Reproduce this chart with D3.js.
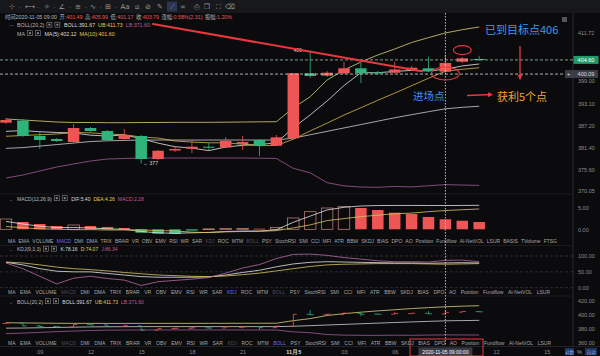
<!DOCTYPE html>
<html>
<head>
<meta charset="utf-8">
<script src="https://cdn.jsdelivr.net/npm/d3@7"></script>
<style>
html, body { margin: 0; padding: 0; background: #0b0b0e; }
svg { display: block; font-family: "Liberation Sans", "Noto Sans CJK SC", sans-serif; }
</style>
</head>
<body>
<svg id="chart" width="600" height="356"></svg>
<script>
// 1h candles, 2020-11-04 07:00 .. 2020-11-05 11:00
const opens  = [387.99,388.52,384.47,383.67,382.88,386.58,385.79,383.67,384.47,378.38,380.63,381.11,381.64,381.43,382.35,383.41,381.90,383.86,401.06,400.42,401.06,402.38,401.32,401.21,401.93,402.38,401.49,404.12,404.84];
const closes = [388.70,384.47,383.41,383.15,386.58,385.79,383.41,384.73,378.38,380.58,381.03,381.64,381.37,383.15,382.88,381.90,384.12,401.06,400.34,401.21,402.38,401.06,401.06,402.06,402.54,401.66,403.79,405.02,404.57];
const highs  = [389.23,388.97,385.53,383.94,387.64,386.85,386.06,386.32,384.73,380.76,381.82,383.41,382.62,384.20,384.47,383.67,384.73,401.13,407.00,401.66,404.12,403.78,401.66,404.12,402.99,405.45,405.99,405.37,405.70];
const lows   = [387.64,384.20,381.03,382.88,382.62,385.53,383.15,383.41,377.20,378.12,380.24,379.97,380.76,381.29,380.76,379.18,381.82,383.67,399.81,400.08,400.87,398.49,400.87,401.00,401.66,401.40,401.17,403.78,404.31];

const bollUp  = [388.97,388.70,388.44,388.17,388.04,388.04,387.99,387.99,388.04,388.04,388.09,388.09,388.09,388.12,388.17,388.22,388.25,391.88,394.86,399.28,401.93,404.04,405.90,407.48,409.20,410.50,411.73,412.60,413.30];
const bollMid = [381.2,381.4,381.8,382.2,382.6,383.0,383.2,383.3,383.4,383.4,383.4,383.4,383.4,383.4,383.4,383.4,383.4,383.9,384.8,385.7,386.6,387.5,388.4,389.3,390.1,390.9,391.67,392.05,392.35];
const bollLow = [373.36,374.15,375.21,376.27,377.06,377.85,378.38,378.52,378.65,378.65,378.65,378.65,378.65,378.65,378.65,378.60,378.52,375.92,374.74,372.12,371.27,370.96,370.90,371.12,371.00,371.30,371.60,371.50,371.40];
const ma5  = [385.7,385.9,385.6,385.4,385.26,384.68,384.47,384.73,383.78,382.58,381.63,381.27,380.60,381.55,382.01,382.19,382.68,386.62,390.06,393.73,397.82,401.21,401.21,401.55,401.82,401.68,402.12,403.01,403.52];
const ma10 = [384.4,384.6,384.8,385.0,385.4,385.3,385.0,384.8,384.2,383.92,383.15,382.87,382.67,382.67,382.30,381.91,381.98,383.61,385.81,387.87,390.01,391.95,393.92,395.81,397.77,399.75,401.60,402.11,402.54];

const macdHist = [2.34,1.66,1.20,0.75,0.98,0.75,0.52,0.30,-0.77,-1.00,-1.07,-0.30,0.10,0.16,0.20,0.14,0.40,2.57,4.00,4.84,5.14,4.84,4.39,3.77,3.48,2.80,2.28,1.95,1.66];
const dif = [1.80,1.20,0.70,0.40,0.40,0.30,0.10,0.00,-0.50,-0.80,-0.90,-0.80,-0.70,-0.50,-0.40,-0.40,-0.10,1.60,3.00,4.40,5.00,5.30,5.40,5.42,5.42,5.41,5.40,5.42,5.45];
const dea = [0.63,0.37,0.10,0.03,-0.09,-0.08,-0.16,-0.15,-0.12,-0.30,-0.37,-0.65,-0.75,-0.58,-0.50,-0.47,-0.30,0.32,1.00,1.98,2.43,2.88,3.21,3.54,3.68,4.01,4.26,4.45,4.62];

const kdjK = [80,72,60,52,50,50,45,40,35,33,33,33,34,40,48,55,66,75,80,82,81,80,79,78,78,77,78.16,79,78];
const kdjD = [81,78,72,65,60,57,53,48,44,40,38,36,35,37,41,46,53,60,67,72,74,75,76,76,76,75,74.07,75,76];
const kdjJ = [78,60,36,12,30,36,29,24,7,19,23,27,32,46,62,73,92,105,106,102,95,90,85,82,82,81,86.34,87,82];

const priceTicks = [411.72, 399.00, 393.10, 387.20, 381.40, 375.60, 370.05];
const macdTicks = [5, 0];
const kdjTicks = [100, 50, 0];
const bollTicks = [420, 400, 380, 360];
const timeTickIdx = [2, 5, 8, 11, 14, 17, 20, 23, 29, 32];
const timeTickText = ["09", "12", "15", "18", "21", "11月5", "03", "06", "12", "15"];
const lastPrice = 404.60, entryPrice = 400.09, crossIdx = 26;

const indicatorNames = ["MA","EMA","VOLUME","MACD","DMI","DMA","TRIX","BRAR","VR","OBV","EMV","RSI","WR","SAR","KDJ","ROC","MTM","BOLL","PSY","StochRSI","SMI","CCI","MFI","ATR","BBW","SKDJ","BIAS","DPO","AO","Position","Fundflow","AI-NetVOL","LSUR","BASIS","TVolume","FTSG"];

const UP = "#ee5656", DOWN = "#2fb57b", TXT = "#b8b8b8", AX = "#8c8c8c";
const C_WHITE = "#dcdcdc", C_YEL = "#e3c94f", C_PINK = "#c25a9c";

const svg = d3.select("#chart");
svg.append("rect").attr("width", 600).attr("height", 356).attr("fill", "#0b0b0e");

const x = d3.scaleLinear().domain([0, 33]).range([6, 6 + 33 * 16.9]);
const yMain = d3.scaleLinear().domain([370.05, 411.72]).range([190.5, 33]);
const yMacd = d3.scaleLinear().domain([0, 5]).range([229.3, 207.3]);
const yKdj = d3.scaleLinear().domain([0, 100]).range([287.7, 256]);
const yBoll = d3.scaleLinear().domain([360, 420]).range([343, 301]);
const idx = d3.range(opens.length);

// toolbar
svg.append("rect").attr("width", 600).attr("height", 13).attr("fill", "#17181c");
const icons = ["⊹","⟷","✧","∠","≡","∿","⊞","Aa","⧄","⊘","✎","⟋","∞","⎙","❐","⛶","⌫"];
const iconX = [12,30,47,62,78,93,108,125,137,148,160,172,183,197,207,218,230];
svg.append("rect").attr("x", 167).attr("y", 1.5).attr("width", 10).attr("height", 10).attr("fill", "#2b3550");
svg.append("g").selectAll("text").data(icons).join("text")
  .attr("x", (d, i) => iconX[i]).attr("y", 9).attr("text-anchor", "middle")
  .attr("font-family", "DejaVu Sans").attr("font-size", 7).attr("fill", (d, i) => i === 11 ? "#6f8fd8" : "#9a9a9a")
  .text(d => d);
svg.append("g").selectAll("text").data(iconX.slice(0, 7)).join("text")
  .attr("x", d => d + 7).attr("y", 8.5).attr("font-size", 5).attr("fill", "#777").text("-");

// frame lines
svg.append("line").attr("x1", 573).attr("x2", 573).attr("y1", 13).attr("y2", 346).attr("stroke", "#2a2a2e");
[194, 245.5, 296].forEach(yy => svg.append("line").attr("x1", 0).attr("x2", 573).attr("y1", yy).attr("y2", yy).attr("stroke", "#1c1c20"));
svg.append("line").attr("x1", 0).attr("x2", 600).attr("y1", 346.5).attr("y2", 346.5).attr("stroke", "#222226");

// text flows: parts = [text, colour, gapBefore]
function flow(x0, y, parts, size) {
  const t = svg.append("text").attr("x", x0).attr("y", y).attr("font-size", size);
  parts.forEach(p => t.append("tspan").attr("dx", p[2] || 0).attr("fill", p[1]).text(p[0]));
  return t.node().getComputedTextLength();
}
function iconBoxes(y, xs) {
  xs.forEach(xx => {
    svg.append("rect").attr("x", xx).attr("y", y - 4.8).attr("width", 5).attr("height", 5)
      .attr("fill", "none").attr("stroke", "#888").attr("stroke-width", 0.6);
    svg.append("rect").attr("x", xx + 1.5).attr("y", y - 3.3).attr("width", 2).attr("height", 2).attr("fill", "#888");
  });
}
function paneTitle(y, mark, title, values, size) {
  if (mark) svg.append("text").attr("x", 9).attr("y", y).attr("font-size", 5).attr("fill", "#777").text(mark);
  const w = flow(17, y, [[title, TXT]], size);
  const ix = 17 + w + 2.5;
  iconBoxes(y, [ix, ix + 8]);
  flow(ix + 17, y, values.map((v, i) => [v[0], v[1], i ? 3 : 0]), size);
}

flow(5, 19.3, [
  ["时间2020-11-05 09:00", TXT],
  ["开:", TXT, 2.5], ["401.49", UP],
  ["高:", TXT, 2.5], ["405.99", UP],
  ["低:", TXT, 2.5], ["401.17", UP],
  ["收:", TXT, 2.5], ["403.79", UP],
  ["涨幅:", TXT, 2.5], ["0.58%(2.31)", UP],
  ["振幅:", TXT, 2.5], ["1.20%", UP]
], 5.3);
paneTitle(27, "—", "BOLL(20,2)", [["BOLL:391.67", C_WHITE], ["UB:411.73", C_YEL], ["LB:371.60", C_PINK]], 5.3);
paneTitle(35.5, null, "MA", [["MA(5):402.12", C_WHITE], ["MA(10):401.60", C_YEL]], 5.3);
paneTitle(200.5, "⌄", "MACD(12,26,9)", [["DIF:5.40", C_WHITE], ["DEA:4.26", C_YEL], ["MACD:2.28", C_PINK]], 5);
paneTitle(251, "⌄", "KDJ(9,3,3)", [["K:78.16", C_WHITE], ["D:74.07", C_YEL], ["J:86.34", C_PINK]], 5);
paneTitle(303.5, "⌄", "BOLL(20,2)", [["BOLL:391.67", C_WHITE], ["UB:411.73", C_YEL], ["LB:371.60", C_PINK]], 5);

// indicator name rows
function nameRow(y, names, endX, active) {
  const g = svg.append("g").attr("font-size", 5);
  const t = g.selectAll("text").data(names).join("text").attr("y", y)
    .attr("fill", d => d === active ? "#6a6af0" : (["MACD", "KDJ", "BOLL"].includes(d) ? "#4c4c55" : "#a8a8a8"))
    .text(d => d);
  const w = t.nodes().map(n => n.getComputedTextLength());
  const gap = (endX - 8 - d3.sum(w)) / (names.length - 1);
  let xx = 8;
  t.attr("x", (d, i) => { const v = xx; xx += w[i] + gap; return v; });
}
nameRow(243, indicatorNames, 557, "MACD");
nameRow(293.5, indicatorNames.slice(0, 33), 550, "KDJ");
nameRow(344.5, indicatorNames.slice(0, 33), 551, "BOLL");

// axes
function rightAxis(scale, ticks, fmt) {
  const g = svg.append("g").attr("transform", "translate(576,0)")
    .call(d3.axisRight(scale).tickValues(ticks).tickSize(0).tickPadding(2).tickFormat(d3.format(fmt)));
  g.select(".domain").remove();
  g.selectAll("text").attr("fill", AX).attr("font-size", 5.5).attr("font-family", "Liberation Sans");
}
rightAxis(yMain, priceTicks, ".2f");
rightAxis(yMacd, macdTicks, ".2f");
rightAxis(yKdj, kdjTicks, ".2f");
rightAxis(yBoll, bollTicks, ".2f");

const xAxis = svg.append("g").attr("transform", "translate(0,347)")
  .call(d3.axisBottom(x).tickValues(timeTickIdx).tickSize(0).tickPadding(3).tickFormat((d, i) => timeTickText[i]));
xAxis.select(".domain").remove();
xAxis.selectAll("text").attr("font-size", 5.5)
  .attr("font-weight", (d, i) => timeTickText[i] === "11月5" ? "bold" : null)
  .attr("fill", (d, i) => timeTickText[i] === "11月5" ? "#ddd" : AX);

// KDJ dashed levels
svg.append("g").selectAll("line").data(kdjTicks).join("line")
  .attr("x1", 0).attr("x2", 573).attr("y1", d => yKdj(d)).attr("y2", d => yKdj(d))
  .attr("stroke", "#2c2c32").attr("stroke-dasharray", "3,2");

// candles
const col = i => closes[i] >= opens[i] ? UP : DOWN;
function candles(yS, w) {
  const g = svg.append("g");
  g.selectAll("line").data(idx).join("line")
    .attr("x1", i => x(i)).attr("x2", i => x(i))
    .attr("y1", i => yS(highs[i])).attr("y2", i => yS(lows[i]))
    .attr("stroke", col).attr("stroke-width", 0.8);
  g.selectAll("rect").data(idx).join("rect")
    .attr("x", i => x(i) - w / 2).attr("width", w)
    .attr("y", i => yS(Math.max(opens[i], closes[i])))
    .attr("height", i => Math.max(1, Math.abs(yS(opens[i]) - yS(closes[i]))))
    .attr("fill", col);
}
function ohlcBars(yS, w) {
  const g = svg.append("g").attr("stroke-width", 0.8);
  g.selectAll("line.v").data(idx).join("line").attr("class", "v")
    .attr("x1", i => x(i)).attr("x2", i => x(i))
    .attr("y1", i => yS(highs[i])).attr("y2", i => yS(lows[i])).attr("stroke", col);
  g.selectAll("line.o").data(idx).join("line").attr("class", "o")
    .attr("x1", i => x(i) - w).attr("x2", i => x(i))
    .attr("y1", i => yS(opens[i])).attr("y2", i => yS(opens[i])).attr("stroke", col);
  g.selectAll("line.c").data(idx).join("line").attr("class", "c")
    .attr("x1", i => x(i)).attr("x2", i => x(i) + w)
    .attr("y1", i => yS(closes[i])).attr("y2", i => yS(closes[i])).attr("stroke", col);
}
function series(yS, vals, color, wdt) {
  svg.append("path").datum(vals).attr("fill", "none").attr("stroke", color).attr("stroke-width", wdt || 0.8)
    .attr("d", d3.line().x((d, i) => x(i)).y(d => yS(d)));
}

// main pane
series(yMain, bollUp, "#d9cf7c");
series(yMain, bollMid, "#cfcfcf");
series(yMain, bollLow, "#a05a98");
series(yMain, ma5, "#e6e6e6");
series(yMain, ma10, "#d8b84a");
candles(yMain, 11.5);

// price lines; the entry label is kept clear of the 399.00 tick label
const yLast = yMain(lastPrice);
const yEntry = Math.min(yMain(entryPrice), yMain(399.00) - 7);
svg.append("line").attr("x1", 0).attr("x2", 573).attr("y1", yLast).attr("y2", yLast)
  .attr("stroke", "#9fbfae").attr("stroke-dasharray", "3,2").attr("stroke-width", 0.8);
svg.append("line").attr("x1", 0).attr("x2", 565).attr("y1", yEntry).attr("y2", yEntry)
  .attr("stroke", "#d8d8d8").attr("stroke-dasharray", "3,2").attr("stroke-width", 0.8);
svg.append("rect").attr("x", 573.5).attr("y", yLast - 4).attr("width", 25).attr("height", 8).attr("fill", "#1f9a68");
svg.append("text").attr("x", 586).attr("y", yLast + 2).attr("text-anchor", "middle")
  .attr("font-size", 5.5).attr("fill", "#fff").text(lastPrice.toFixed(2));
svg.append("rect").attr("x", 565).attr("y", yEntry - 4).attr("width", 33).attr("height", 8).attr("fill", "#3a3d46");
svg.append("text").attr("x", 568.5).attr("y", yEntry + 2).attr("text-anchor", "middle")
  .attr("font-size", 6).attr("fill", "#ddd").text("+");
svg.append("text").attr("x", 586).attr("y", yEntry + 2).attr("text-anchor", "middle")
  .attr("font-size", 5.5).attr("fill", "#ddd").text(entryPrice.toFixed(2));
svg.append("rect").attr("x", 562).attr("y", 17).attr("width", 5).attr("height", 5).attr("fill", "#555");

// high / low markers
svg.append("text").attr("x", x(18) - 2).attr("y", yMain(highs[18]) + 1).attr("text-anchor", "end")
  .attr("font-size", 5).attr("fill", "#ddd").text("406 →");
svg.append("text").attr("x", x(8) + 2).attr("y", yMain(lows[8]) + 1.5)
  .attr("font-size", 5).attr("fill", "#ddd").text("← 377");

// MACD pane
const hollow = i => macdHist[i] > 0 && (i === 0 || macdHist[i] > macdHist[i - 1]);
svg.append("g").selectAll("rect").data(idx).join("rect")
  .attr("x", i => x(i) - 5.75).attr("width", 11.5)
  .attr("y", i => Math.min(yMacd(0), yMacd(macdHist[i])))
  .attr("height", i => Math.max(0.8, Math.abs(yMacd(macdHist[i]) - yMacd(0))))
  .attr("fill", i => hollow(i) ? "none" : (macdHist[i] >= 0 ? UP : DOWN))
  .attr("stroke", i => hollow(i) ? "#c98a80" : "none").attr("stroke-width", 0.7);
series(yMacd, dif, "#e4e4e4");
series(yMacd, dea, "#d9c45a");

// KDJ pane
series(yKdj, kdjK, "#e4e4e4");
series(yKdj, kdjD, "#d9c45a");
series(yKdj, kdjJ, "#b66aa6");

// bottom BOLL pane
series(yBoll, bollUp, "#d9cf7c");
series(yBoll, bollMid, "#cfcfcf");
series(yBoll, bollLow, "#a05a98");
ohlcBars(yBoll, 3.5);

// crosshair
svg.append("line").attr("x1", x(crossIdx)).attr("x2", x(crossIdx)).attr("y1", 13).attr("y2", 346)
  .attr("stroke", "#e8e8e8").attr("stroke-dasharray", "1.5,1.5").attr("stroke-width", 0.8);
svg.append("rect").attr("x", x(crossIdx) - 27).attr("y", 347.5).attr("width", 54).attr("height", 8.5).attr("fill", "#3a3d46");
svg.append("text").attr("x", x(crossIdx)).attr("y", 353.7).attr("text-anchor", "middle")
  .attr("font-size", 5).attr("fill", "#fff").text("2020-11-05 09:00:00");

// bottom-right buttons
svg.append("rect").attr("x", 565).attr("y", 348).attr("width", 9).attr("height", 7).attr("fill", "#1d3560");
svg.append("text").attr("x", 569.5).attr("y", 353.6).attr("text-anchor", "middle").attr("font-size", 4.5).attr("fill", "#8fb0ee").text("对数");
svg.append("text").attr("x", 579.5).attr("y", 353.8).attr("text-anchor", "middle").attr("font-size", 5.5).attr("fill", "#aaa").text("%");
svg.append("rect").attr("x", 585).attr("y", 348).attr("width", 12).attr("height", 7).attr("fill", "#1d3560");
svg.append("text").attr("x", 591).attr("y", 353.6).attr("text-anchor", "middle").attr("font-size", 4.5).attr("fill", "#8fb0ee").text("自动");

// hand-drawn annotations
const RED = "#e8383c";
svg.append("defs").append("marker").attr("id", "ah").attr("viewBox", "0 0 10 10").attr("refX", 8).attr("refY", 5)
  .attr("markerWidth", 4).attr("markerHeight", 4).attr("orient", "auto")
  .append("path").attr("d", "M0,0 L10,5 L0,10 z").attr("fill", RED);
svg.append("line").attr("x1", 153).attr("y1", 24).attr("x2", x(24.6)).attr("y2", yMain(401.6))
  .attr("stroke", RED).attr("stroke-width", 2).attr("stroke-linecap", "round");
svg.append("line").attr("x1", 520).attr("y1", 46).attr("x2", 520).attr("y2", 79)
  .attr("stroke", RED).attr("stroke-width", 1.3).attr("marker-end", "url(#ah)");
svg.append("line").attr("x1", 467).attr("y1", 95.5).attr("x2", 492).attr("y2", 94.5)
  .attr("stroke", RED).attr("stroke-width", 1.3).attr("marker-end", "url(#ah)");
svg.append("ellipse").attr("cx", x(27)).attr("cy", yMain(407.2)).attr("rx", 9).attr("ry", 4.5)
  .attr("fill", "none").attr("stroke", RED).attr("stroke-width", 1.1);
svg.append("ellipse").attr("cx", x(crossIdx)).attr("cy", yMain(401.0)).attr("rx", 14).attr("ry", 6.5)
  .attr("fill", "none").attr("stroke", RED).attr("stroke-width", 1.1);
svg.append("rect").attr("x", 410).attr("y", 339).attr("width", 73).attr("height", 17)
  .attr("fill", "none").attr("stroke", RED).attr("stroke-width", 1);

const cjk = "Noto Sans CJK SC";
svg.append("text").attr("x", 485).attr("y", 34).attr("font-family", cjk).attr("font-size", 11)
  .attr("fill", "#3d98ee").text("已到目标点406");
svg.append("text").attr("x", 413).attr("y", 100).attr("font-family", cjk).attr("font-size", 10.5)
  .attr("fill", "#3d8fe6").text("进场点");
svg.append("text").attr("x", 497).attr("y", 101).attr("font-family", cjk).attr("font-size", 11)
  .attr("fill", "#f0a43a").text("获利5个点");
</script>
</body>
</html>
